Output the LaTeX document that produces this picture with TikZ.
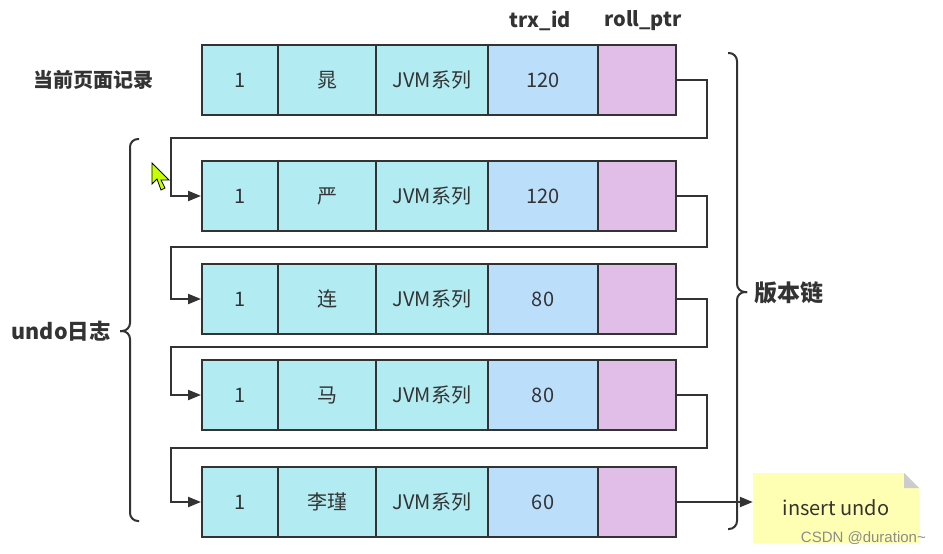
\documentclass[tikz,border=0pt]{standalone}
\usepackage{fontspec}
\newfontfamily\cjk{Noto Sans CJK SC}
\newfontfamily\wmfont{Liberation Sans}
\usetikzlibrary{arrows.meta,calc}
\definecolor{ink}{HTML}{333333}
\definecolor{cyanc}{HTML}{B2EBF2}
\definecolor{bluec}{HTML}{BBDEFB}
\definecolor{pinkc}{HTML}{E1BEE7}
\definecolor{notey}{HTML}{FFFFB3}
\definecolor{foldg}{HTML}{CCCCCC}
\definecolor{cursorg}{HTML}{C6FF00}
\tikzset{
  cell/.style={draw=ink, line width=2pt, minimum height=70pt, inner sep=0pt, font=\cjk\fontsize{20}{20}\selectfont, text=ink},
  cA/.style={cell, fill=cyanc, minimum width=76pt},
  cB/.style={cell, fill=cyanc, minimum width=98pt},
  cC/.style={cell, fill=cyanc, minimum width=112pt},
  cD/.style={cell, fill=bluec, minimum width=110pt},
  cE/.style={cell, fill=pinkc, minimum width=78pt},
  conn/.style={draw=ink, line width=2.2pt, -{Triangle[length=13pt,width=10pt]}},
  brace/.style={draw=ink, line width=2pt, rounded corners=8pt},
  lbl/.style={font=\cjk\bfseries\fontsize{20}{20}\selectfont, text=ink, inner sep=0pt}
}
\begin{document}
\begin{tikzpicture}[x=1pt,y=-1pt]
\useasboundingbox (0,0) rectangle (943,554);
\fill[white] (0,0) rectangle (943,554);
% rows
\foreach \r/\y/\n/\id in {1/80/晁/120, 2/196/严/120, 3/299/连/80, 4/395/马/80, 5/502/李瑾/60}{
  \node[cA] (r\r c1) at (240,\y) {1};
  \node[cB] (r\r c2) at (327,\y) {\n};
  \node[cC] (r\r c3) at (432,\y) {JVM系列};
  \node[cD] (r\r c4) at (543,\y) {\id};
  \node[cE] (r\r c5) at (637,\y) {};
}
% headers
\node[lbl] (hid) at (540,21) {trx\_id};
\node[lbl] (hptr) at (643,21) {roll\_ptr};
\node[lbl, anchor=west] (cur) at (33,80) {当前页面记录};
% connectors
\draw[conn] (r1c5.east) -| (707,138) -| ([xshift=-30pt]r2c1.west) -- (r2c1.west);
\draw[conn] (r2c5.east) -| (707,247) -| ([xshift=-30pt]r3c1.west) -- (r3c1.west);
\draw[conn] (r3c5.east) -| (707,347) -| ([xshift=-30pt]r4c1.west) -- (r4c1.west);
\draw[conn] (r4c5.east) -| (707,448) -| ([xshift=-30pt]r5c1.west) -- (r5c1.west);
% note
\fill[notey] (753,473) -- (904,473) -- (919,488) -- (919,543) -- (753,543) -- cycle;
\fill[foldg] (904,473) -- (904,488) -- (919,488) -- cycle;
\node[inner sep=0pt, minimum width=166pt, minimum height=70pt, font=\cjk\fontsize{20}{20}\selectfont, text=ink] (note) at (836,508) {insert undo};
\draw[conn] (r5c5.east) -- (r5c5.east -| note.west);
% right brace
\draw[brace] (728,53) -- (737,53) -- (737,292) -- (747,292);
\draw[brace] (747,292) -- (737,292) -- (737,529) -- (728,529);
\node[lbl, anchor=west, font=\cjk\bfseries\fontsize{23}{23}\selectfont] (ver) at (754,293) {版本链};
% left brace
\draw[brace] (139,139) -- (130,139) -- (130,331) -- (120,331);
\draw[brace] (120,331) -- (130,331) -- (130,521) -- (139,521);
\node[lbl, anchor=east, font=\cjk\bfseries\fontsize{21.5}{21.5}\selectfont] (undo) at (111,331) {undo日志};
% cursor
\draw[black, line width=0.8pt, fill=cursorg, line join=miter] (152,163) -- (152,184) -- (157,179) -- (161,190) -- (165,188) -- (161,180) -- (169,180) -- cycle;
% watermark
\node[font=\wmfont\fontsize{15}{15}\selectfont, text=black!45, anchor=east, inner sep=0pt] (wm) at (926,538) {CSDN @duration\textasciitilde};
\end{tikzpicture}
\end{document}
